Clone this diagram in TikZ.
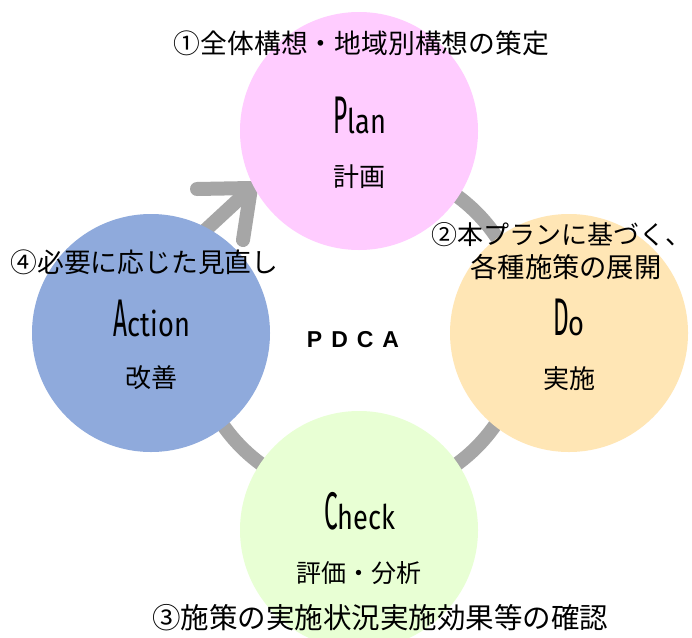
\documentclass[tikz,border=0pt]{standalone}
\usepackage{fontspec}
\newfontfamily\jp{Noto Sans CJK JP}
\newfontfamily\agcap[FakeStretch=0.46]{Fira Sans}
\newfontfamily\aglow[FakeStretch=0.8]{Fira Sans}
\newfontfamily\lib{Liberation Sans}
\definecolor{planfill}{RGB}{255,204,255}
\definecolor{dofill}{RGB}{255,230,181}
\definecolor{checkfill}{RGB}{232,255,212}
\definecolor{actfill}{RGB}{143,170,220}
\definecolor{ringgray}{RGB}{166,166,166}
\newcommand\bigword[2]{{\agcap\fontsize{53}{54}\selectfont #1}{\aglow\fontsize{34}{40}\selectfont #2}}
\begin{document}
\begin{tikzpicture}[x=1pt,y=-1pt,
  phase/.style={circle, minimum size=238, inner sep=0, draw=none},
  ring/.style={draw=ringgray, line width=14},
  cyc/.style={ring, line cap=round, line join=miter, miter limit=10},
  word/.style={anchor=base, inner sep=0},
  sub/.style={inner sep=0, font=\jp\fontsize{26}{30}\selectfont},
  lbl/.style={inner sep=0, font=\jp\fontsize{26.8}{30}\selectfont}
]
\useasboundingbox (0,0) rectangle (692,637);
\clip (0,0) rectangle (692,637);
\fill[white] (0,0) rectangle (692,637);

% ring behind circles
\coordinate (hub) at (359,330);
\draw[ring] ([shift={(-80:166)}]hub) arc[start angle=-80, end angle=170, radius=166];

% arrow from Action to Plan
\coordinate (arrowtail) at (198,237);
\coordinate (arrowtip) at (251,188);
\coordinate (armA) at (197,189);
\coordinate (armB) at (243,240);
\draw[cyc] (arrowtail) -- (arrowtip);
\draw[cyc] (armA) -- (arrowtip) -- (armB);

% circles
\node[phase, fill=planfill]  (plan)   at (359,131) {};
\node[phase, fill=dofill]    (do)     at (569,333) {};
\node[phase, fill=checkfill] (check)  at (359,530) {};
\node[phase, fill=actfill]   (action) at (151,333) {};

% words in circles
\node[word] (planword)   at (360,133) {\bigword{P}{lan}};
\node[sub]  (planjp)     at (359,177) {計画};
\node[word] (doword)     at (569,335) {\bigword{D}{o}};
\node[sub]  (dojp)       at (569,379) {実施};
\node[word] (checkword)  at (360,529) {\bigword{C}{heck}};
\node[sub, font=\jp\fontsize{25}{30}\selectfont] (checkjp) at (359,573) {評価・分析};
\node[word] (actionword) at (152,336) {\bigword{A}{ction}};
\node[sub]  (actionjp)   at (151,378) {改善};

% centre title
\node[inner sep=0, font=\lib\bfseries\fontsize{23}{26}\selectfont] (pdca) at (353,340) {P\hspace{9pt}D\hspace{9pt}C\hspace{9pt}A};

% outer labels
\node[lbl] (lplan) at (361.5,43) {①全体構想・地域別構想の策定};
\node[lbl, font=\jp\fontsize{26}{30}\selectfont] (ldoA) at (561.5,235) {②本プランに基づく、};
\node[lbl, font=\jp\fontsize{27.3}{30}\selectfont] (ldoB) at (566,267) {各種施策の展開};
\node[lbl, font=\jp\fontsize{28.5}{30}\selectfont] (lcheck) at (380,618) {③施策の実施状況実施効果等の確認};
\node[lbl] (laction) at (144.5,262) {④必要に応じた見直し};
\end{tikzpicture}
\end{document}
